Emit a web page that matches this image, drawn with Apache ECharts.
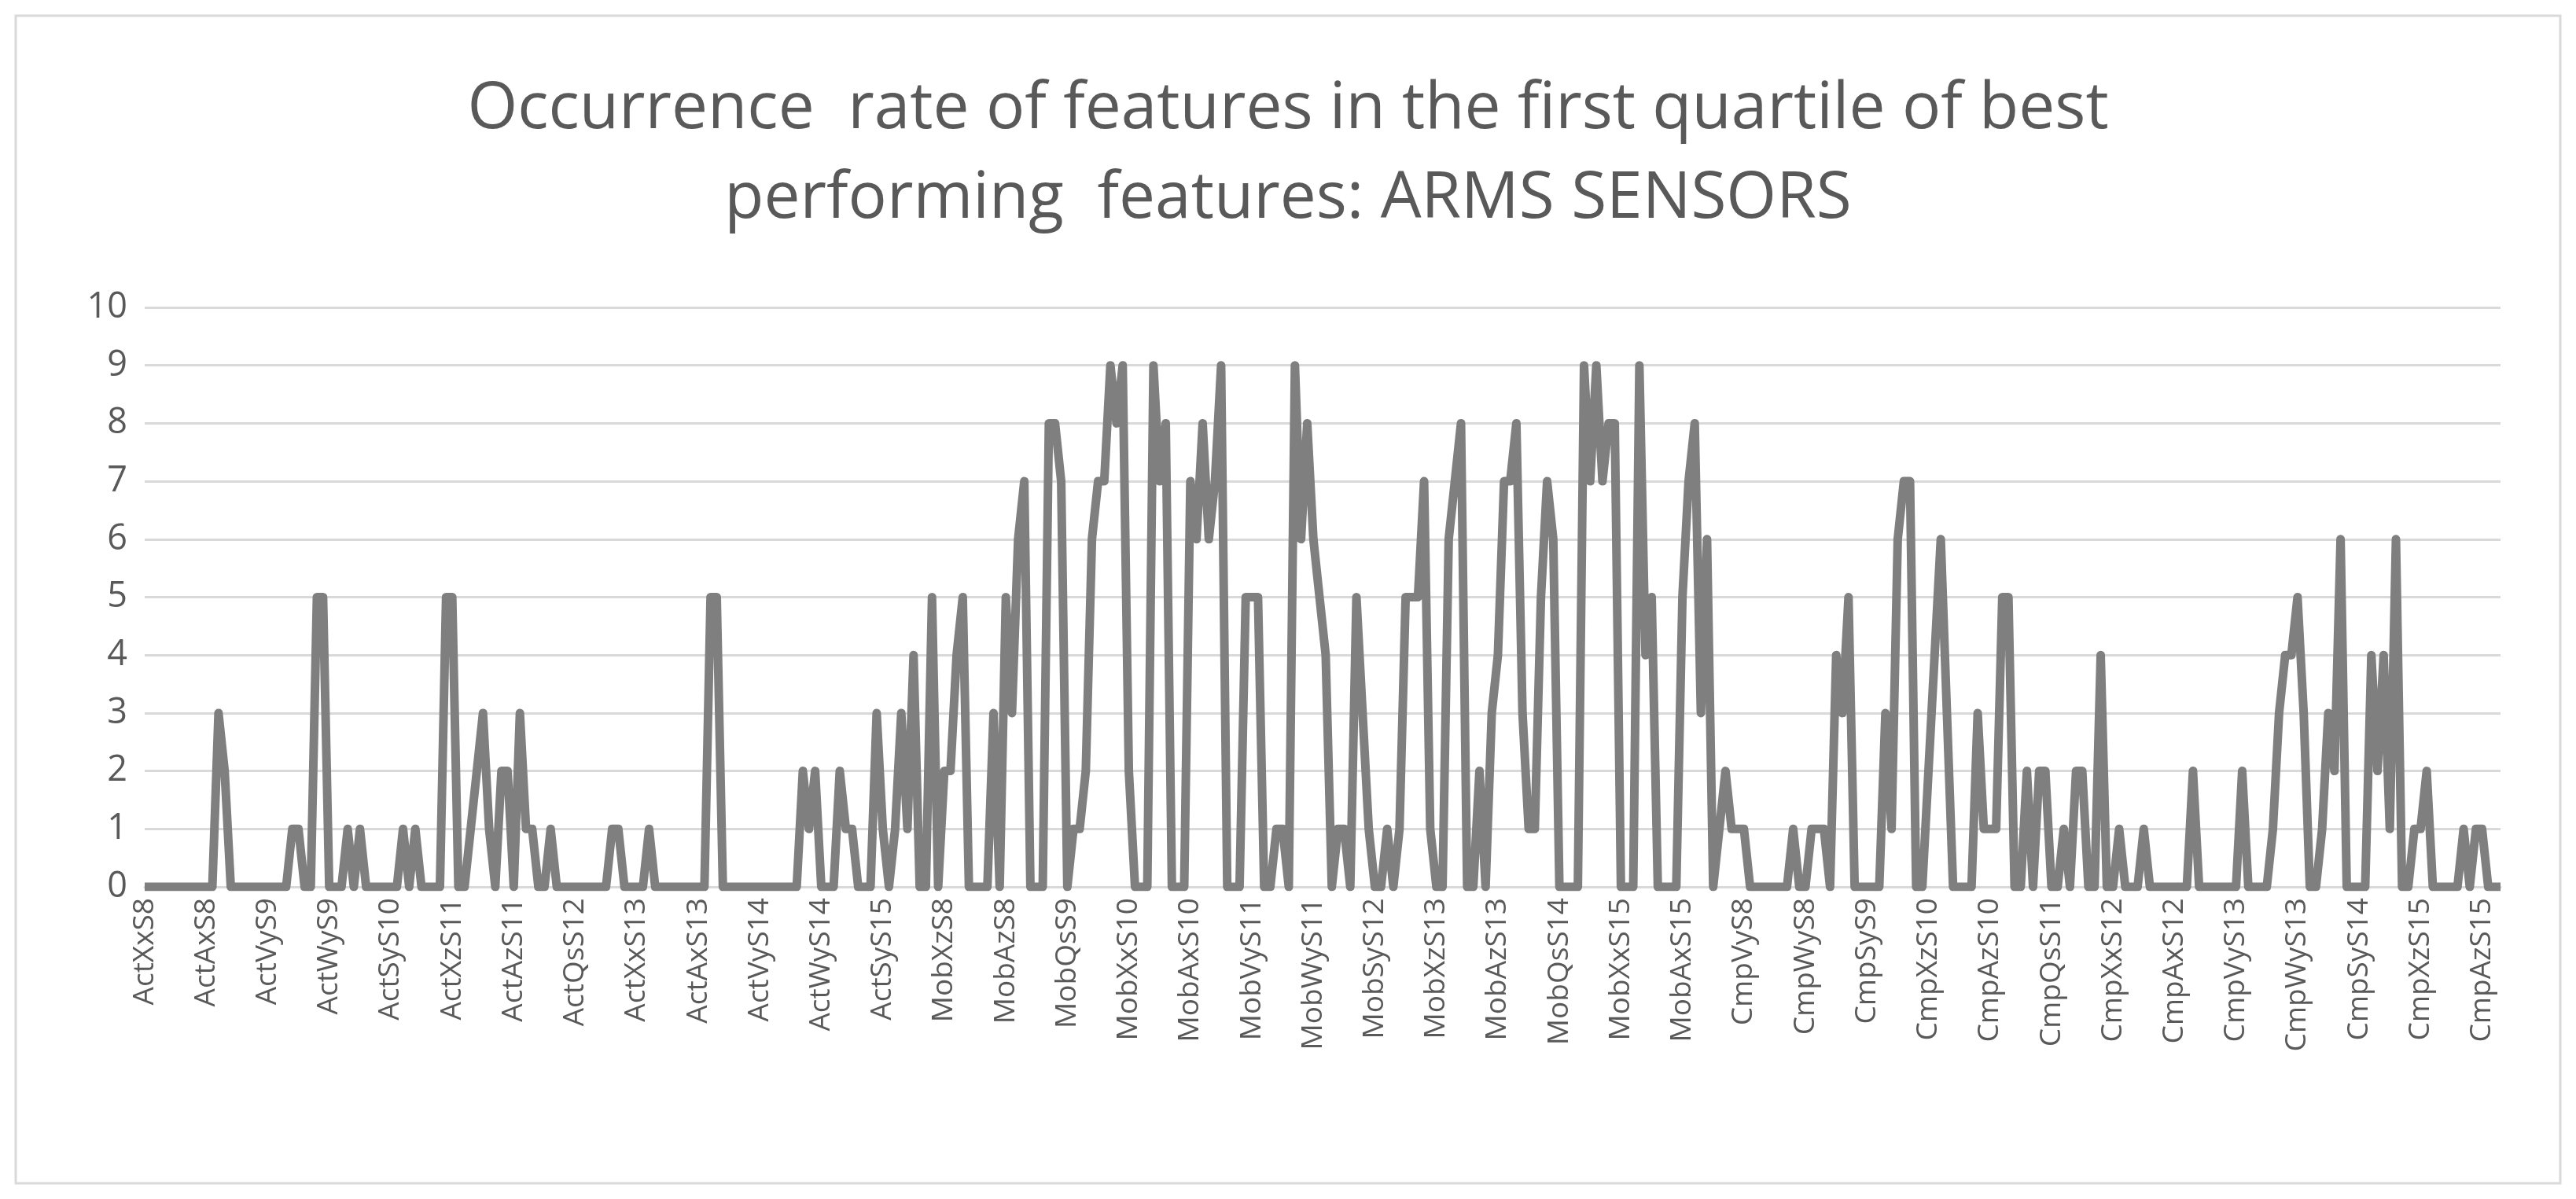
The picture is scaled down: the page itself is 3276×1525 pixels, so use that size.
<!DOCTYPE html>
<html><head><meta charset="utf-8">
<script src="https://cdn.jsdelivr.net/npm/echarts@6/dist/echarts.min.js"></script>
<style>html,body{margin:0;padding:0;background:#fff}#c{width:3276px;height:1525px}</style>
</head><body><div id="c"></div>
<script>
const groups = ['Act','Mob','Cmp'];
const sensors = ['S8','S9','S10','S11','S12','S13','S14','S15'];
const features = ['Xx','Xy','Xz','Vx','Vy','Vz','Qs','Sx','Sy','Sz','Ax','Ay','Az','Wx','Wy','Wz'];
const actValues = [
0,0,0,0,0,0,0,0,0,0,0,0,
3,2,0,0,0,0,0,0,0,0,0,0,
1,1,0,0,5,5,0,0,0,1,0,1,
0,0,0,0,0,0,1,0,1,0,0,0,
0,5,5,0,0,1,2,3,1,0,2,2,
0,3,1,1,0,0,1,0,0,0,0,0,
0,0,0,0,1,1,0,0,0,0,1,0,
0,0,0,0,0,0,0,0,5,5,0,0,
0,0,0,0,0,0,0,0,0,0,0,2,
1,2,0,0,0,2,1,1,0,0,0,3,
1,0,1,3,1,4,0,0];
const mobValues = [
5,0,2,2,4,5,0,0,0,0,3,0,
5,3,6,7,0,0,0,8,8,7,0,1,
1,2,6,7,7,9,8,9,2,0,0,0,
9,7,8,0,0,0,7,6,8,6,7,9,
0,0,0,5,5,5,0,0,1,1,0,9,
6,8,6,5,4,0,1,1,0,5,3,1,
0,0,1,0,1,5,5,5,7,1,0,0,
6,7,8,0,0,2,0,3,4,7,7,8,
3,1,1,5,7,6,0,0,0,0,9,7,
9,7,8,8,0,0,0,9,4,5,0,0,
0,0,5,7,8,3,6,0];
const cmpValues = [
1,2,1,1,1,0,0,0,0,0,0,0,
1,0,0,1,1,1,0,4,3,5,0,0,
0,0,0,3,1,6,7,7,0,0,2,4,
6,3,0,0,0,0,3,1,1,1,5,5,
0,0,2,0,2,2,0,0,1,0,2,2,
0,0,4,0,0,1,0,0,0,1,0,0,
0,0,0,0,0,2,0,0,0,0,0,0,
0,2,0,0,0,0,1,3,4,4,5,3,
0,0,1,3,2,6,0,0,0,0,4,2,
4,1,6,0,0,1,1,2,0,0,0,0,
0,1,0,1,1,0,0,0];
const yTicks = [0,1,2,3,4,5,6,7,8,9,10];

const categories = [];
groups.forEach(g => sensors.forEach(s => features.forEach(f => categories.push(g + f + s))));
const values = actValues.concat(mobValues, cmpValues);

const chart = echarts.init(document.getElementById('c'));
chart.setOption({
  backgroundColor: '#fff',
  animation: false,
  graphic: [{type:'rect', shape:{x:20,y:20,width:3236,height:1485}, style:{fill:'none', stroke:'#d9d9d9', lineWidth:3}}],
  title: {
    text: 'Occurrence  rate of features in the first quartile of best\nperforming  features: ARMS SENSORS',
    left: 'center', top: 78,
    textStyle: {fontFamily:'Open Sans', fontWeight:'normal', fontSize:82, color:'#595959', lineHeight:114}
  },
  grid: {left:184, right:96, top:391, bottom:397},
  xAxis: {
    type:'category', data: categories, boundaryGap:false,
    axisLine:{lineStyle:{color:'#d9d9d9', width:3}},
    axisTick:{show:false},
    axisLabel:{interval:9, rotate:90, fontFamily:'Open Sans', fontSize:37, color:'#595959', margin:14}
  },
  yAxis: {
    type:'value', min:yTicks[0], max:yTicks[yTicks.length-1], interval:1,
    axisLine:{show:false}, axisTick:{show:false},
    axisLabel:{fontFamily:'Open Sans', fontSize:45, color:'#595959', margin:22},
    splitLine:{lineStyle:{color:'#d9d9d9', width:3}}
  },
  series: [{
    type:'line', data: values, showSymbol:false, symbol:'none',
    lineStyle:{color:'#7f7f7f', width:11, join:'round'}
  }]
});
</script></body></html>
